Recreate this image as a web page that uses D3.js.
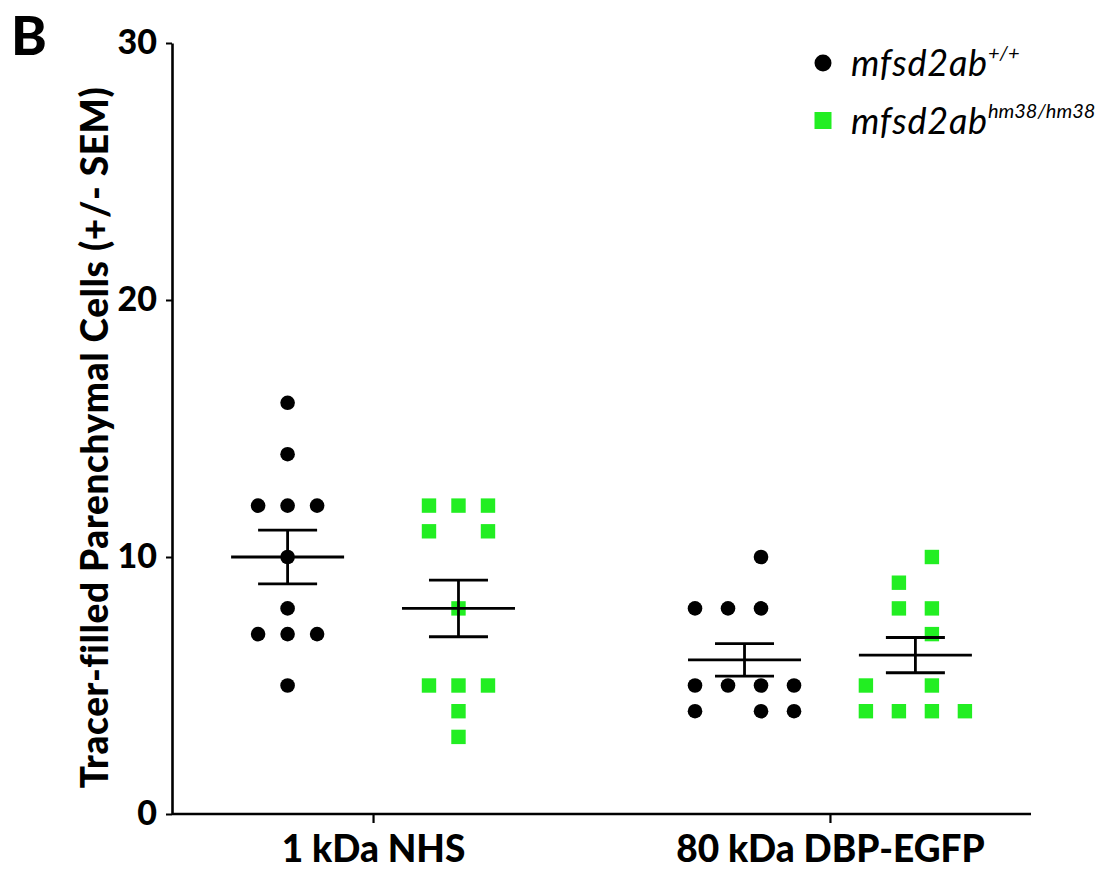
<!DOCTYPE html>
<html>
<head>
<meta charset="utf-8">
<script src="https://cdn.jsdelivr.net/npm/d3@7"></script>
<style>
  body { margin: 0; background: #fff; }
  svg { display: block; font-family: Lato, "Open Sans", sans-serif; }
</style>
</head>
<body>
<svg id="chart" width="1106" height="876"></svg>
<script>
// Data
const categories = ["1 kDa NHS", "80 kDa DBP-EGFP"];
const genotypes = ["+/+", "hm38/hm38"];
const yTicks = [0, 10, 20, 30];

const wtNHS = [16, 14, 12, 12, 12, 10, 8, 7, 7, 7, 5];
const hmNHS = [12, 12, 12, 11, 11, 8, 5, 5, 5, 4, 3];
const wtDBP = [10, 8, 8, 8, 5, 5, 5, 5, 4, 4, 4];
const hmDBP = [10, 9, 8, 8, 7, 5, 5, 4, 4, 4, 4];

// scatter column (jitter slot) for each point, as the original dot plot arranged them
const wtNHSCol = [0, 0, -1, 0, 1, 0, 0, -1, 0, 1, 0];
const hmNHSCol = [-1, 0, 1, -1, 1, 0, -1, 0, 1, 0, 0];
const wtDBPCol = [0.5, -1.5, -0.5, 0.5, -1.5, -0.5, 0.5, 1.5, -1.5, 0.5, 1.5];
const hmDBPCol = [0.5, -0.5, -0.5, 0.5, 0.5, -1.5, 0.5, -1.5, -0.5, 0.5, 1.5];

const groups = [
  { cat: categories[0], geno: genotypes[0], values: wtNHS, cols: wtNHSCol },
  { cat: categories[0], geno: genotypes[1], values: hmNHS, cols: hmNHSCol },
  { cat: categories[1], geno: genotypes[0], values: wtDBP, cols: wtDBPCol },
  { cat: categories[1], geno: genotypes[1], values: hmDBP, cols: hmDBPCol },
];

const color = { wt: "#000000", hm: "#22ee22", axis: "#000000" };

const svg = d3.select("#chart");

// plot area
const plot = { left: 172, right: 1031, top: 43, bottom: 814 };

const x = d3.scalePoint().domain(categories).range([plot.left, plot.right]).padding(0.44);
const xSub = d3.scalePoint().domain(genotypes)
  .range([-x.step() * 0.187, x.step() * 0.187]);
// spacing between scatter columns differs per category in the original
const colGap = d3.scaleOrdinal().domain(categories).range([29.5, 33]);

const y = d3.scaleLinear().domain([0, 30]).range([plot.bottom, plot.top]);

// Y axis
svg.append("g")
  .attr("class", "yAxis")
  .attr("transform", `translate(${plot.left},0)`)
  .call(d3.axisLeft(y).tickValues(yTicks).tickSizeOuter(0).tickSizeInner(6).tickPadding(9))
  .call((g) => g.select(".domain").attr("stroke-width", 2.6))
  .call((g) => g.selectAll(".tick line").attr("stroke-width", 2))
  .call((g) =>
    g.selectAll(".tick text")
      .attr("font-size", 34)
      .attr("font-weight", 900)
      .attr("font-family", "Lato")
      .attr("fill", "#000")
  );

// X axis
svg.append("g")
  .attr("class", "xAxis")
  .attr("transform", `translate(0,${plot.bottom})`)
  .call(d3.axisBottom(x).tickSizeOuter(0).tickSizeInner(9).tickPadding(13))
  .call((g) => g.select(".domain").attr("d", `M${plot.left},0H${plot.right}`).attr("stroke-width", 2.6))
  .call((g) => g.selectAll(".tick line").attr("stroke-width", 2.2))
  .call((g) =>
    g.selectAll(".tick text")
      .attr("font-size", 37)
      .attr("font-weight", 900)
      .attr("font-family", "Lato")
      .attr("fill", "#000")
  );

// Y axis title
svg.append("text")
  .attr("transform", `translate(108,${(plot.top + plot.bottom) / 2 + 9}) rotate(-90)`)
  .attr("text-anchor", "middle")
  .attr("font-size", 37)
  .attr("font-weight", 900)
  .attr("letter-spacing", 0.6)
  .text("Tracer-filled Parenchymal Cells (+/- SEM)");

// panel letter
svg.append("text")
  .attr("x", 11)
  .attr("y", 55)
  .attr("font-size", 54)
  .attr("font-weight", 900)
  .text("B");

// points
const pts = svg.append("g").attr("class", "points");
groups.forEach((grp) => {
  const cx = x(grp.cat) + xSub(grp.geno);
  const gap = colGap(grp.cat);
  const sel = pts.append("g").selectAll("g").data(grp.values.map((v, i) => ({ v, c: grp.cols[i] })));
  if (grp.geno === genotypes[0]) {
    sel.join("circle")
      .attr("cx", (d) => cx + d.c * gap)
      .attr("cy", (d) => y(d.v))
      .attr("r", 7.3)
      .attr("fill", color.wt);
  } else {
    sel.join("rect")
      .attr("x", (d) => cx + d.c * gap - 7.2)
      .attr("y", (d) => y(d.v) - 7.2)
      .attr("width", 14.4)
      .attr("height", 14.4)
      .attr("fill", color.hm);
  }
});

// mean +/- SEM
const bars = svg.append("g").attr("class", "errorbars")
  .attr("stroke", "#000").attr("stroke-width", 2.8).attr("fill", "none");
groups.forEach((grp) => {
  const cx = x(grp.cat) + xSub(grp.geno);
  const m = d3.mean(grp.values);
  const sem = d3.deviation(grp.values) / Math.sqrt(grp.values.length);
  const g = bars.append("g");
  g.append("line").attr("x1", cx - 56.5).attr("x2", cx + 56.5).attr("y1", y(m)).attr("y2", y(m));
  g.append("line").attr("x1", cx).attr("x2", cx).attr("y1", y(m - sem)).attr("y2", y(m + sem));
  g.append("line").attr("x1", cx - 29.5).attr("x2", cx + 29.5).attr("y1", y(m + sem)).attr("y2", y(m + sem));
  g.append("line").attr("x1", cx - 29.5).attr("x2", cx + 29.5).attr("y1", y(m - sem)).attr("y2", y(m - sem));
});

// legend
const legend = svg.append("g").attr("class", "legend");
const legendRows = legend.selectAll("g")
  .data(genotypes)
  .join("g")
  .attr("transform", (d, i) => `translate(823,${63 + i * 57.5})`);

legendRows.filter((d, i) => i === 0)
  .append("circle").attr("r", 8.5).attr("fill", color.wt);
legendRows.filter((d, i) => i === 1)
  .append("rect").attr("x", -8.5).attr("y", -8.5).attr("width", 17).attr("height", 17).attr("fill", color.hm);

const lt = legendRows.append("text")
  .attr("x", 28)
  .attr("y", 13)
  .attr("font-size", 36)
  .attr("font-style", "italic")
  .attr("font-family", "Lato");
lt.append("tspan").attr("letter-spacing", 0.8).text("mfsd2ab");
lt.append("tspan").attr("font-size", 20).attr("dy", -16).text((d) => d);
</script>
</body>
</html>
